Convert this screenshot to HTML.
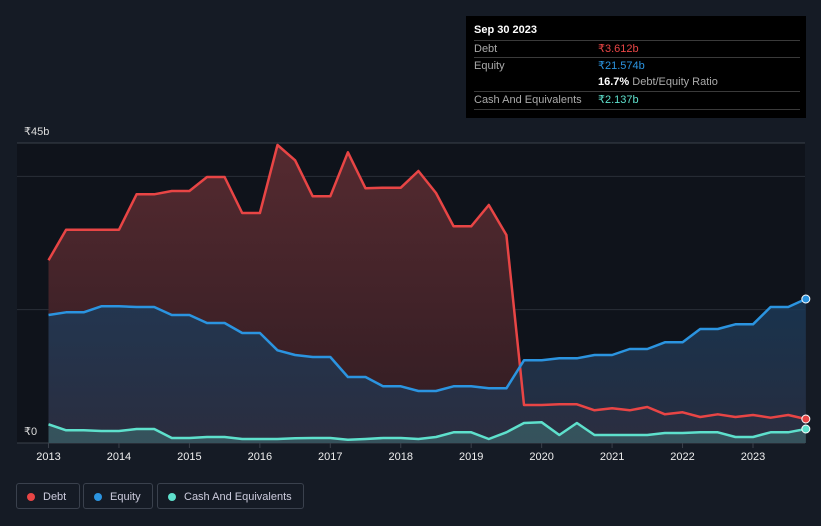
<!DOCTYPE html>
<html><head><meta charset="utf-8"><style>
body{margin:0;background:#151b25;width:821px;height:526px;overflow:hidden;font-family:"Liberation Sans",sans-serif;}
svg{position:absolute;left:0;top:0}
.tip{position:absolute;left:466px;top:16px;width:340px;height:102px;background:#000;color:#fff;font-size:11px}
.row{position:absolute;left:8px;width:326px;border-top:1px solid #3a3a3a;height:17px;line-height:17px;color:#aaa}
.row span{position:absolute;left:124px}
.leg{position:absolute;top:483px;height:26px;border:1px solid #3a414d;border-radius:3px;color:#ccd;font-size:11px;line-height:26px;box-sizing:border-box}
.dot{display:inline-block;width:8px;height:8px;border-radius:50%;margin:0 8px 0 10px;vertical-align:-1px}
</style></head><body>
<svg id="chart" width="821" height="526"></svg>
<div class="tip">
<div style="position:absolute;left:8px;top:8px;font-weight:bold">Sep 30 2023</div>
<div class="row" style="top:24px">Debt<span style="color:#e84545">₹3.612b</span></div>
<div class="row" style="top:41px">Equity<span style="color:#2b94e0">₹21.574b</span></div>
<div class="row" style="top:58px;border-top:none"><span style="color:#aaa"><b style="color:#fff">16.7%</b> Debt/Equity Ratio</span></div>
<div class="row" style="top:75px;border-bottom:1px solid #3a3a3a">Cash And Equivalents<span style="color:#5ee0cc">₹2.137b</span></div>
</div>
<div class="leg" style="left:16px;width:64px"><span class="dot" style="background:#e84545"></span>Debt</div>
<div class="leg" style="left:83px;width:70px"><span class="dot" style="background:#2b94e0"></span>Equity</div>
<div class="leg" style="left:157px;width:147px"><span class="dot" style="background:#5ee0cc"></span>Cash And Equivalents</div>
<script>
const years=["2013","2014","2015","2016","2017","2018","2019","2020","2021","2022","2023"];
const yTicks=[0,45];
const debt=[27.4,32,32,32,32,37.3,37.3,37.8,37.8,39.9,39.9,34.5,34.5,44.7,42.4,37,37,43.6,38.2,38.3,38.3,40.8,37.5,32.5,32.5,35.7,31.2,5.7,5.7,5.8,5.8,4.9,5.2,4.9,5.4,4.3,4.6,3.9,4.3,3.9,4.2,3.8,4.2,3.6];
const equity=[19.2,19.6,19.6,20.5,20.5,20.4,20.4,19.2,19.2,18,18,16.5,16.5,13.9,13.2,12.9,12.9,9.9,9.9,8.5,8.5,7.8,7.8,8.5,8.5,8.2,8.2,12.4,12.4,12.7,12.7,13.2,13.2,14.1,14.1,15.1,15.1,17.1,17.1,17.8,17.8,20.4,20.4,21.6];
const cash=[2.8,1.9,1.9,1.8,1.8,2.1,2.1,0.75,0.75,0.9,0.9,0.6,0.6,0.6,0.7,0.75,0.75,0.5,0.6,0.75,0.75,0.6,0.9,1.6,1.6,0.6,1.6,3,3.1,1.2,3,1.2,1.2,1.2,1.2,1.5,1.5,1.6,1.6,0.9,0.9,1.6,1.6,2.1];
const NS="http://www.w3.org/2000/svg",svg=document.getElementById('chart');
const x0=48.5,perYear=70.45,y0=443,yTop=143;
const X=t=>x0+t*perYear, Y=v=>y0-(v/45)*(y0-yTop);
function mk(tag,attrs){const e=document.createElementNS(NS,tag);for(const k in attrs)e.setAttribute(k,attrs[k]);svg.appendChild(e);return e;}
const bg=mk('rect',{x:17,y:143,width:788,height:300,fill:'#0f131b'});


[45,40,20,0].forEach(v=>{const g=mk('line',{x1:17,x2:805,y1:Y(v),y2:Y(v),stroke:v==45||v==0?'#3a404a':'#2a2f38','stroke-width':1});

});
yTicks.forEach(v=>{const t=mk('text',{x:24,y:Y(v)-8,fill:'#ddd','font-size':11,'font-family':'Liberation Sans'});t.textContent='₹'+v+(v?'b':'');

});
years.forEach((yr,i)=>{mk('line',{x1:X(i),x2:X(i),y1:y0,y2:y0+5,stroke:'#3a404a'});
const t=mk('text',{x:X(i),y:y0+17,fill:'#eee','font-size':11,'text-anchor':'middle','font-family':'Liberation Sans'});t.textContent=yr;

});
const defs=mk('defs',{});
defs.innerHTML='<linearGradient id="gd" x1="0" y1="0" x2="0" y2="1"><stop offset="0" stop-color="#552a30"/><stop offset="1" stop-color="#301c22"/></linearGradient><linearGradient id="ge" x1="0" y1="0" x2="0" y2="1"><stop offset="0" stop-color="#1b3b5a" stop-opacity=".8"/><stop offset="1" stop-color="#2a2f42" stop-opacity=".9"/></linearGradient>';
function series(vals,color,fill,name){
 const pts=vals.map((v,i)=>[X(i*0.25),Y(v)]);
 const d='M'+pts.map(p=>p[0].toFixed(1)+','+p[1].toFixed(1)).join('L');
 const a=mk('path',{d:d+`L${pts[pts.length-1][0]},${y0}L${pts[0][0]},${y0}Z`,fill:fill});
 
 
 return [d,pts];
}
const dd=series(debt,'#e84545','url(#gd)','debt');
const ed=series(equity,'#2b94e0','url(#ge)','equity');
const cd=series(cash,'#5ee0cc','rgba(80,170,160,0.3)','cash');
[[dd,'#e84545','debt'],[ed,'#2b94e0','equity'],[cd,'#5ee0cc','cash']].forEach(([s,c,n])=>{
 const l=mk('path',{d:s[0],fill:'none',stroke:c,'stroke-width':2.5,'stroke-linejoin':'round'});
 
 
 const p=s[1][s[1].length-1];
 const dot=mk('circle',{cx:p[0],cy:p[1],r:4,fill:c,stroke:'#fff','stroke-width':1});
 
 
});
</script>
</body></html>
